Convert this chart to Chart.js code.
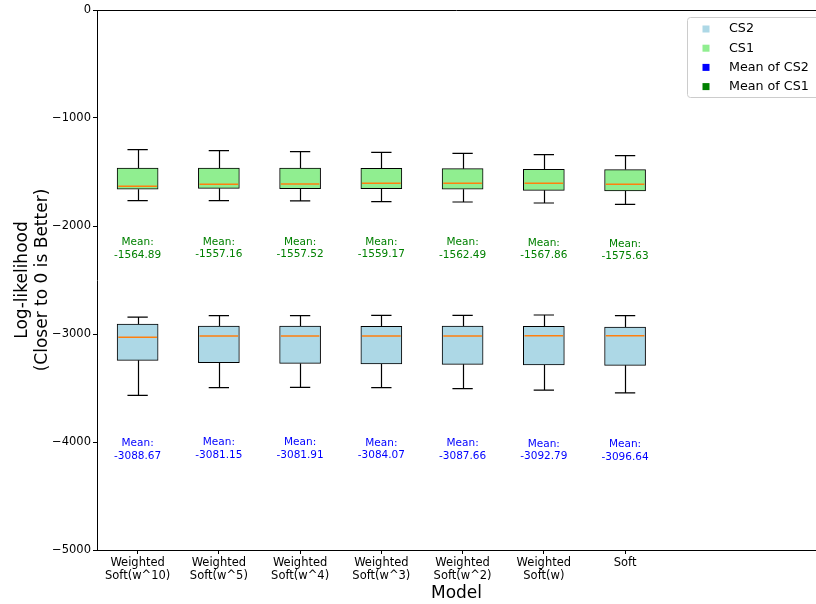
<!DOCTYPE html>
<html>
<head>
<meta charset="utf-8">
<script src="https://cdn.jsdelivr.net/npm/chart.js@4.4.1/dist/chart.umd.min.js"></script>
<style>
  html, body { margin: 0; padding: 0; background: #ffffff; }
  canvas { display: block; }
</style>
</head>
<body>
<canvas id="chart" width="816" height="604"></canvas>
<script>
// Model names shown on the x axis (two-line labels)
const models = [
  ['Weighted', 'Soft(w^10)'],
  ['Weighted', 'Soft(w^5)'],
  ['Weighted', 'Soft(w^4)'],
  ['Weighted', 'Soft(w^3)'],
  ['Weighted', 'Soft(w^2)'],
  ['Weighted', 'Soft(w)'],
  ['Soft']
];

// CS1 box statistics
const cs1Low    = [-1765, -1765, -1768, -1775, -1778, -1787, -1799];
const cs1Q1     = [-1660, -1651, -1654, -1654, -1660, -1670, -1676];
const cs1Median = [-1633, -1614, -1611, -1605, -1605, -1605, -1614];
const cs1Q3     = [-1463, -1463, -1463, -1466, -1469, -1475, -1478];
const cs1High   = [-1293, -1302, -1312, -1318, -1327, -1339, -1349];
const cs1Mean   = [-1564.89, -1557.16, -1557.52, -1559.17, -1562.49, -1567.86, -1575.63];

// CS2 box statistics
const cs2Low    = [-3568, -3497, -3494, -3497, -3506, -3519, -3546];
const cs2Q1     = [-3244, -3265, -3272, -3278, -3281, -3287, -3290];
const cs2Median = [-3031, -3019, -3019, -3019, -3019, -3016, -3016];
const cs2Q3     = [-2907, -2926, -2926, -2929, -2926, -2929, -2935];
const cs2High   = [-2843, -2830, -2830, -2827, -2827, -2824, -2830];
const cs2Mean   = [-3088.67, -3081.15, -3081.91, -3084.07, -3087.66, -3092.79, -3096.64];

// Y axis tick values
const yTicks = [0, -1000, -2000, -3000, -4000, -5000];

const FONT = "'DejaVu Sans', sans-serif";
const positions = models.map((_, i) => i + 1);

function boxData(q1, q3) {
  return positions.map((x, i) => ({ x: x, y: [q1[i], q3[i]] }));
}
function meanData(means) {
  return positions.map((x, i) => ({ x: x, y: means[i] }));
}

const boxStats = {
  CS2: { low: cs2Low, median: cs2Median, high: cs2High, q1: cs2Q1, q3: cs2Q3 },
  CS1: { low: cs1Low, median: cs1Median, high: cs1High, q1: cs1Q1, q3: cs1Q3 }
};

// Whiskers, caps, medians and mean annotations drawn with the chart's scales
const boxExtras = {
  id: 'boxExtras',
  afterDatasetsDraw(chart) {
    const ctx = chart.ctx;
    const xs = chart.scales.x, ys = chart.scales.y;
    ctx.save();
    chart.data.datasets.forEach(ds => {
      if (ds.role === 'box') {
        const s = boxStats[ds.label];
        positions.forEach((p, i) => {
          const cx = Math.round(xs.getPixelForValue(p)) + 0.5;
          const capL = xs.getPixelForValue(p - 0.125), capR = xs.getPixelForValue(p + 0.125);
          const boxL = xs.getPixelForValue(p - 0.25), boxR = xs.getPixelForValue(p + 0.25);
          const yLow = ys.getPixelForValue(s.low[i]), yQ1 = ys.getPixelForValue(s.q1[i]);
          const yQ3 = ys.getPixelForValue(s.q3[i]), yHigh = ys.getPixelForValue(s.high[i]);
          ctx.strokeStyle = '#000000';
          ctx.lineWidth = 1.2;
          ctx.beginPath();
          ctx.moveTo(cx, yQ1); ctx.lineTo(cx, yLow);
          ctx.moveTo(cx, yQ3); ctx.lineTo(cx, yHigh);
          ctx.moveTo(capL, yLow); ctx.lineTo(capR, yLow);
          ctx.moveTo(capL, yHigh); ctx.lineTo(capR, yHigh);
          ctx.stroke();
          const yMed = ys.getPixelForValue(s.median[i]);
          ctx.strokeStyle = '#ff7f0e';
          ctx.lineWidth = 1.5;
          ctx.beginPath();
          ctx.moveTo(boxL + 1, yMed); ctx.lineTo(boxR - 1, yMed);
          ctx.stroke();
        });
      } else if (ds.role === 'mean') {
        ctx.fillStyle = ds.textColor;
        ctx.font = '10.5px ' + FONT;
        ctx.textAlign = 'center';
        ctx.textBaseline = 'middle';
        ds.data.forEach(pt => {
          const cx = xs.getPixelForValue(pt.x);
          const cy = ys.getPixelForValue(pt.y + ds.labelOffset);
          ctx.fillText('Mean:', cx, cy - 6);
          ctx.fillText(pt.y.toFixed(2), cx, cy + 6.5);
        });
      }
    });
    ctx.restore();
  }
};

// Plot frame (top spine) and legend box in the upper right
const frameAndLegend = {
  id: 'frameAndLegend',
  afterDraw(chart) {
    const ctx = chart.ctx;
    const a = chart.chartArea;
    ctx.save();
    ctx.strokeStyle = '#000000';
    ctx.lineWidth = 1;
    ctx.beginPath();
    ctx.moveTo(a.left, a.top + 0.5); ctx.lineTo(a.right, a.top + 0.5);
    ctx.stroke();

    // legend
    const lx = 687.5, ly = 17.5, lw = 140, lh = 80;
    ctx.fillStyle = 'rgba(255,255,255,0.8)';
    ctx.strokeStyle = '#cccccc';
    ctx.lineWidth = 1;
    ctx.beginPath();
    ctx.roundRect(lx, ly, lw, lh, 3);
    ctx.fill();
    ctx.stroke();
    ctx.font = '12.7px ' + FONT;
    ctx.textAlign = 'left';
    ctx.textBaseline = 'middle';
    chart.data.datasets.forEach((ds, i) => {
      const y = 29 + i * 19.2;
      ctx.fillStyle = ds.legendColor;
      ctx.fillRect(702.5, y - 3.5, 7, 7);
      ctx.fillStyle = '#000000';
      ctx.fillText(ds.label, 729, y);
    });
    ctx.restore();
  }
};

new Chart(document.getElementById('chart'), {
  type: 'bar',
  data: {
    datasets: [
      {
        label: 'CS2', role: 'box',
        data: boxData(cs2Q1, cs2Q3),
        backgroundColor: '#add8e6', borderColor: '#000000', borderWidth: 1,
        borderSkipped: false, barThickness: 41, grouped: false,
        legendColor: '#add8e6'
      },
      {
        label: 'CS1', role: 'box',
        data: boxData(cs1Q1, cs1Q3),
        backgroundColor: '#90ee90', borderColor: '#000000', borderWidth: 1,
        borderSkipped: false, barThickness: 41, grouped: false,
        legendColor: '#90ee90'
      },
      {
        type: 'scatter', label: 'Mean of CS2', role: 'mean',
        data: meanData(cs2Mean), pointRadius: 0, showLine: false,
        textColor: '#0000ff', legendColor: '#0000ff', labelOffset: -980
      },
      {
        type: 'scatter', label: 'Mean of CS1', role: 'mean',
        data: meanData(cs1Mean), pointRadius: 0, showLine: false,
        textColor: '#008000', legendColor: '#008000', labelOffset: -645
      }
    ]
  },
  options: {
    responsive: false,
    animation: false,
    devicePixelRatio: 1,
    layout: { padding: { top: 10, right: 0, bottom: 0, left: 0 } },
    plugins: {
      legend: { display: false },
      tooltip: { enabled: false }
    },
    scales: {
      x: {
        type: 'linear',
        offset: false,
        min: 0.5,
        max: 9.35,
        afterBuildTicks: scale => { scale.ticks = positions.map(v => ({ value: v })); },
        afterFit: scale => { scale.height = 54; },
        ticks: {
          autoSkip: false, maxRotation: 0, minRotation: 0,
          padding: 3,
          color: '#000000',
          font: { family: FONT, size: 11.5, lineHeight: 1.12 },
          callback: v => models[v - 1]
        },
        grid: { display: true, offset: false, drawOnChartArea: false, drawTicks: true, tickLength: 4, color: '#000000' },
        border: { display: true, color: '#000000', width: 1 },
        title: {
          display: true, text: 'Model', color: '#000000',
          font: { family: FONT, size: 17 }, padding: { top: 0, bottom: 0 }
        }
      },
      y: {
        min: -5000,
        max: 0,
        afterBuildTicks: scale => { scale.ticks = yTicks.map(v => ({ value: v })); },
        afterFit: scale => { scale.width = 97; },
        ticks: {
          padding: 2,
          color: '#000000',
          font: { family: FONT, size: 11.5 },
          callback: v => (v < 0 ? '\u2212' + Math.abs(v) : String(v))
        },
        grid: { display: true, drawOnChartArea: false, drawTicks: true, tickLength: 4, color: '#000000' },
        border: { display: true, color: '#000000', width: 1 },
        title: {
          display: true, text: ['Log-likelihood', '(Closer to 0 is Better)'], color: '#000000',
          font: { family: FONT, size: 17, lineHeight: 1.2 }, padding: { top: 12, bottom: 0 }
        }
      }
    }
  },
  plugins: [boxExtras, frameAndLegend]
});
</script>
</body>
</html>
